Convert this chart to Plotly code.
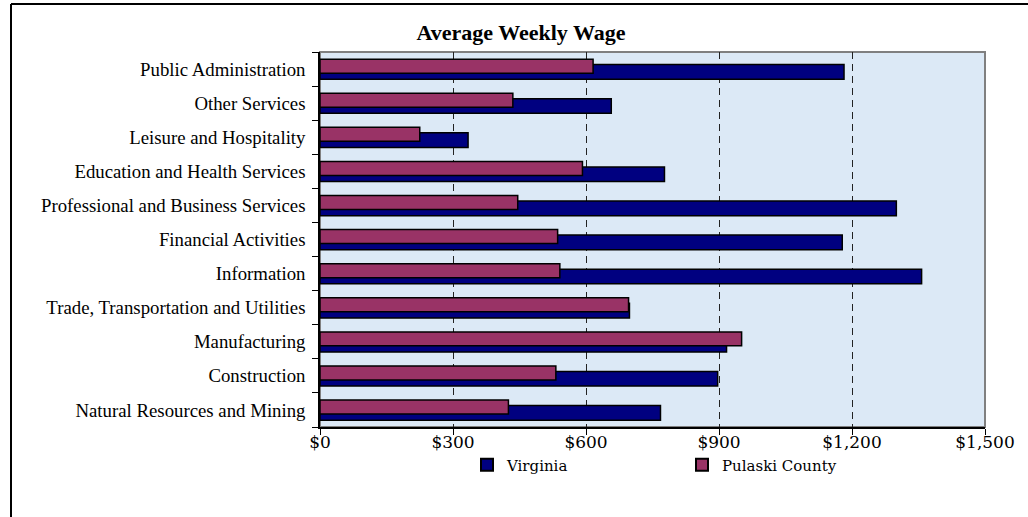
import plotly.graph_objects as go

categories = [
    "Natural Resources and Mining",
    "Construction",
    "Manufacturing",
    "Trade, Transportation and Utilities",
    "Information",
    "Financial Activities",
    "Professional and Business Services",
    "Education and Health Services",
    "Leisure and Hospitality",
    "Other Services",
    "Public Administration",
]
virginia = [768, 897, 917, 698, 1357, 1178, 1300, 777, 334, 657, 1182]
pulaski = [425, 532, 951, 696, 541, 536, 446, 592, 225, 435, 616]
tick_vals = [0, 300, 600, 900, 1200, 1500]
tick_text = ["$0", "$300", "$600", "$900", "$1,200", "$1,500"]

W, H = 1028, 517
L, R, T, B = 320, 985, 52, 427

fig = go.Figure()
fig.add_trace(go.Bar(
    y=categories, x=virginia, orientation="h", name="Virginia",
    marker=dict(color="#000080", line=dict(color="#000000", width=1.5)),
    width=0.43, offset=-0.30,
))
fig.add_trace(go.Bar(
    y=categories, x=pulaski, orientation="h", name="Pulaski County",
    marker=dict(color="#993366", line=dict(color="#000000", width=1.5)),
    width=0.41, offset=-0.12,
))

pw = R - L
ph = B - T


def px(xr):
    return (xr - L) / pw


def py(yr):
    return (B - yr) / ph


shapes = [
    dict(type="rect", xref="paper", yref="paper", x0=0, x1=1, y0=0, y1=1,
         line=dict(color="#808080", width=2), layer="below"),
    dict(type="line", xref="paper", yref="paper",
         x0=px(11), x1=px(11), y0=py(4), y1=py(540),
         line=dict(color="#000000", width=2)),
    dict(type="line", xref="paper", yref="paper",
         x0=px(11), x1=px(1050), y0=py(4), y1=py(4),
         line=dict(color="#000000", width=2)),
]

fig.update_layout(
    width=W, height=H,
    margin=dict(l=L, r=W - R, t=T, b=H - B, pad=0),
    barmode="overlay",
    paper_bgcolor="#ffffff",
    plot_bgcolor="#dce9f6",
    title=dict(text="<b>Average Weekly Wage</b>", x=521 / W, xanchor="center",
               y=1 - 32 / H, yanchor="middle",
               font=dict(family="Liberation Serif", size=22, color="#000000")),
    font=dict(family="Liberation Serif", color="#000000"),
    shapes=shapes,
    showlegend=True,
    legend=dict(orientation="h", x=px(467), xanchor="left",
                y=py(465), yanchor="middle",
                font=dict(family="DejaVu Serif", size=15, color="#000000"),
                entrywidth=170, entrywidthmode="pixels",
                itemsizing="constant", bgcolor="rgba(0,0,0,0)"),
)
fig.update_xaxes(
    range=[0, 1500], tickvals=tick_vals, ticktext=tick_text,
    showgrid=True, gridcolor="#222222", griddash="7px,5px", gridwidth=1,
    showline=True, linecolor="#000000", linewidth=1.5,
    ticks="outside", ticklen=6, tickcolor="#000000",
    tickfont=dict(family="DejaVu Serif", size=17, color="#000000"),
    ticklabelstandoff=-7,
    zeroline=False, fixedrange=True,
)
fig.update_yaxes(
    type="category", categoryorder="array", categoryarray=categories,
    range=[-0.5, len(categories) - 0.5],
    showgrid=False, showline=True, linecolor="#000000", linewidth=1.5,
    ticks="outside", ticklen=6, tickcolor="#000000", tickson="boundaries",
    tickfont=dict(family="Liberation Serif", size=18.8, color="#000000"),
    ticklabelstandoff=9,
    fixedrange=True,
)

fig.write_html("out.html",
               config={"displayModeBar": False},
               post_script="document.body.style.margin='0';document.body.style.overflow='hidden';")
